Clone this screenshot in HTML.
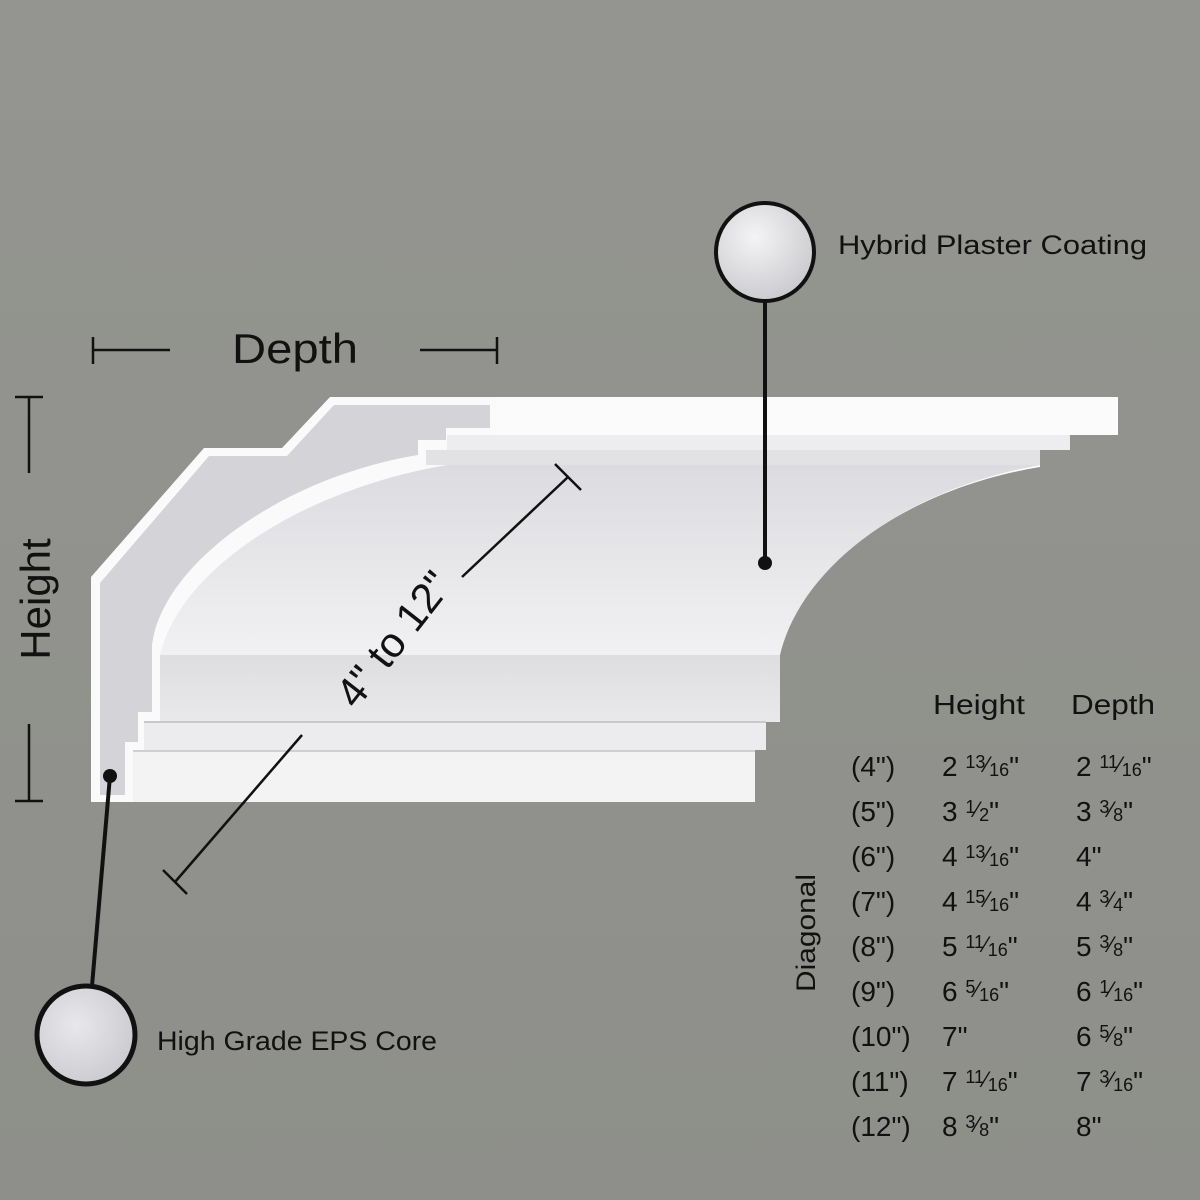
<!DOCTYPE html>
<html><head><meta charset="utf-8">
<style>
html,body{margin:0;padding:0;background:#8f908c;}
svg{display:block;}
text{font-family:"Liberation Sans","DejaVu Sans",sans-serif;fill:#111;}
</style></head>
<body>
<svg width="1200" height="1200" viewBox="0 0 1200 1200" xmlns="http://www.w3.org/2000/svg">
<defs>
<linearGradient id="bg" x1="0" y1="0" x2="0" y2="1">
<stop offset="0" stop-color="#949590"/><stop offset="1" stop-color="#8e8f8a"/></linearGradient>
<linearGradient id="cove" x1="0" y1="0" x2="0" y2="1">
<stop offset="0" stop-color="#dcdce0"/><stop offset="1" stop-color="#f1f1f3"/></linearGradient>
<linearGradient id="face" x1="0" y1="0" x2="0" y2="1">
<stop offset="0" stop-color="#dedee1"/><stop offset="1" stop-color="#e9e9eb"/></linearGradient>
<radialGradient id="circ" cx="0.4" cy="0.35" r="0.7">
<stop offset="0" stop-color="#f4f4f6"/><stop offset="1" stop-color="#c9c9cd"/></radialGradient>
<radialGradient id="eps" cx="0.4" cy="0.4" r="0.7">
<stop offset="0" stop-color="#e8e8ec"/><stop offset="1" stop-color="#c8c8cd"/></radialGradient>
</defs>
<rect width="1200" height="1200" fill="url(#bg)"/>

<!-- outer white coating -->
<path d="M91,802 L91,577 L204,448 L282,448 L330,397 L1118,397 L1118,435 L1070,435 L1070,450 L1040,450 L1040,467 C900,490 800,570 780,653 L780,722 L766,722 L766,750 L755,750 L755,802 Z" fill="#fafafa"/>
<!-- EPS core -->
<path d="M100,795 L100,583 L209,456 L287,456 L334,405 L490,405 L490,428 L446,428 L446,440 L418,440 L418,455 C280,478 162,565 152,645 L152,712 L138,712 L138,742 L125,742 L125,795 Z" fill="#d3d3d8"/>
<!-- top band -->
<rect x="497" y="397" width="621" height="38" fill="#fbfbfb"/>
<rect x="447" y="435" width="623" height="15" fill="#ededef"/>
<rect x="426" y="450" width="614" height="15" fill="#e2e2e5"/>
<!-- cove -->
<path d="M447,465 L1040,465 C900,490 800,570 780,655 L160,655 C180,570 300,490 447,465 Z" fill="url(#cove)"/>
<!-- face steps -->
<rect x="160" y="655" width="620" height="67" fill="url(#face)"/>
<rect x="144" y="722" width="622" height="28" fill="#ececee"/>
<rect x="133" y="750" width="622" height="52" fill="#f3f3f4"/>
<line x1="144" y1="722" x2="766" y2="722" stroke="#c8c8cc" stroke-width="2"/>
<line x1="133" y1="751" x2="755" y2="751" stroke="#cfcfd3" stroke-width="2"/>

<g stroke="#111" stroke-width="2.5">
<line x1="93" y1="337" x2="93" y2="364"/><line x1="93" y1="350" x2="170" y2="350"/>
<line x1="420" y1="350" x2="497" y2="350"/><line x1="497" y1="337" x2="497" y2="364"/>
<line x1="15" y1="397" x2="43" y2="397"/><line x1="29" y1="397" x2="29" y2="473"/>
<line x1="29" y1="724" x2="29" y2="801"/><line x1="15" y1="801" x2="43" y2="801"/>
<line x1="568" y1="477" x2="462" y2="577"/><line x1="555" y1="464" x2="581" y2="490"/>
<line x1="302" y1="735" x2="175" y2="882"/><line x1="163" y1="870" x2="187" y2="894"/>
</g>
<text x="232" y="363" font-size="42" textLength="126" lengthAdjust="spacingAndGlyphs">Depth</text>
<text transform="translate(50,599) rotate(-90)" font-size="42" text-anchor="middle">Height</text>
<text transform="translate(405,648) rotate(-52)" font-size="42" text-anchor="middle">4" to 12"</text>

<line x1="765" y1="300" x2="765" y2="563" stroke="#111" stroke-width="4"/>
<circle cx="765" cy="563" r="7" fill="#111"/>
<circle cx="765" cy="252" r="49" fill="url(#circ)" stroke="#111" stroke-width="4"/>
<text x="838" y="254" font-size="27" textLength="309" lengthAdjust="spacingAndGlyphs">Hybrid Plaster Coating</text>

<line x1="110" y1="776" x2="92" y2="986" stroke="#111" stroke-width="4"/>
<circle cx="110" cy="776" r="7" fill="#111"/>
<circle cx="86" cy="1035" r="49" fill="url(#eps)" stroke="#111" stroke-width="5"/>
<text x="157" y="1050" font-size="27" textLength="280" lengthAdjust="spacingAndGlyphs">High Grade EPS Core</text>

<g font-size="28">
<text x="933" y="714" textLength="92" lengthAdjust="spacingAndGlyphs">Height</text>
<text x="1071" y="714" textLength="84" lengthAdjust="spacingAndGlyphs">Depth</text>
</g>
<text transform="translate(815,933) rotate(-90)" font-size="27" text-anchor="middle" textLength="118" lengthAdjust="spacingAndGlyphs">Diagonal</text>
<g font-size="28">
<text x="851" y="776">(4")</text>
<text x="942" y="776">2 <tspan font-size="18" dy="-8">13</tspan><tspan font-size="22" dy="4">⁄</tspan><tspan font-size="18" dy="4">16</tspan>"</text>
<text x="1076" y="776">2 <tspan font-size="18" dy="-8">11</tspan><tspan font-size="22" dy="4">⁄</tspan><tspan font-size="18" dy="4">16</tspan>"</text>

<text x="851" y="821">(5")</text>
<text x="942" y="821">3 <tspan font-size="18" dy="-8">1</tspan><tspan font-size="22" dy="4">⁄</tspan><tspan font-size="18" dy="4">2</tspan>"</text>
<text x="1076" y="821">3 <tspan font-size="18" dy="-8">3</tspan><tspan font-size="22" dy="4">⁄</tspan><tspan font-size="18" dy="4">8</tspan>"</text>

<text x="851" y="866">(6")</text>
<text x="942" y="866">4 <tspan font-size="18" dy="-8">13</tspan><tspan font-size="22" dy="4">⁄</tspan><tspan font-size="18" dy="4">16</tspan>"</text>
<text x="1076" y="866">4"</text>

<text x="851" y="911">(7")</text>
<text x="942" y="911">4 <tspan font-size="18" dy="-8">15</tspan><tspan font-size="22" dy="4">⁄</tspan><tspan font-size="18" dy="4">16</tspan>"</text>
<text x="1076" y="911">4 <tspan font-size="18" dy="-8">3</tspan><tspan font-size="22" dy="4">⁄</tspan><tspan font-size="18" dy="4">4</tspan>"</text>

<text x="851" y="956">(8")</text>
<text x="942" y="956">5 <tspan font-size="18" dy="-8">11</tspan><tspan font-size="22" dy="4">⁄</tspan><tspan font-size="18" dy="4">16</tspan>"</text>
<text x="1076" y="956">5 <tspan font-size="18" dy="-8">3</tspan><tspan font-size="22" dy="4">⁄</tspan><tspan font-size="18" dy="4">8</tspan>"</text>

<text x="851" y="1001">(9")</text>
<text x="942" y="1001">6 <tspan font-size="18" dy="-8">5</tspan><tspan font-size="22" dy="4">⁄</tspan><tspan font-size="18" dy="4">16</tspan>"</text>
<text x="1076" y="1001">6 <tspan font-size="18" dy="-8">1</tspan><tspan font-size="22" dy="4">⁄</tspan><tspan font-size="18" dy="4">16</tspan>"</text>

<text x="851" y="1046">(10")</text>
<text x="942" y="1046">7"</text>
<text x="1076" y="1046">6 <tspan font-size="18" dy="-8">5</tspan><tspan font-size="22" dy="4">⁄</tspan><tspan font-size="18" dy="4">8</tspan>"</text>

<text x="851" y="1091">(11")</text>
<text x="942" y="1091">7 <tspan font-size="18" dy="-8">11</tspan><tspan font-size="22" dy="4">⁄</tspan><tspan font-size="18" dy="4">16</tspan>"</text>
<text x="1076" y="1091">7 <tspan font-size="18" dy="-8">3</tspan><tspan font-size="22" dy="4">⁄</tspan><tspan font-size="18" dy="4">16</tspan>"</text>

<text x="851" y="1136">(12")</text>
<text x="942" y="1136">8 <tspan font-size="18" dy="-8">3</tspan><tspan font-size="22" dy="4">⁄</tspan><tspan font-size="18" dy="4">8</tspan>"</text>
<text x="1076" y="1136">8"</text>
</g>
</svg>
</body></html>
